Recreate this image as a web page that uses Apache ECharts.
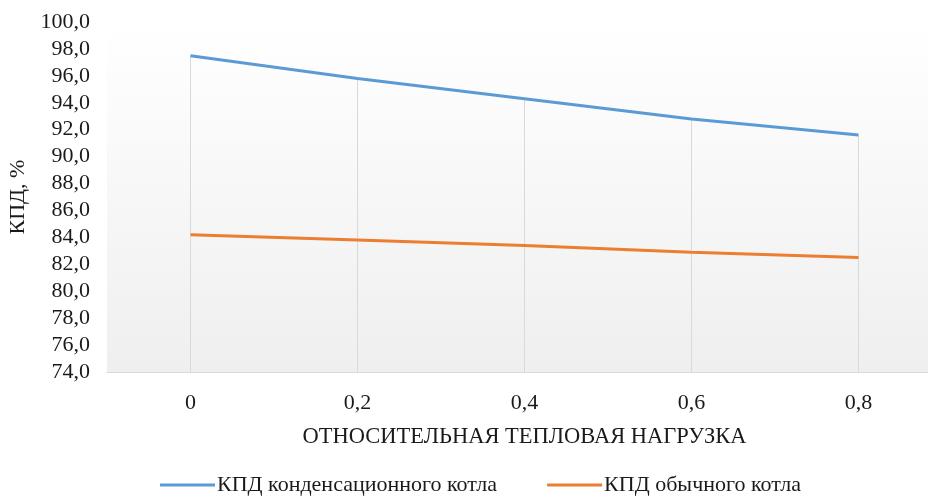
<!DOCTYPE html>
<html><head><meta charset="utf-8">
<script src="https://cdn.jsdelivr.net/npm/echarts@6/dist/echarts.min.js"></script>
<style>html,body{margin:0;padding:0;background:#fff}#c{width:928px;height:503px}</style>
</head><body><div id="c"></div>
<script>
var categories = ['0', '0,2', '0,4', '0,6', '0,8'];
var condensing = [97.5, 95.8, 94.3, 92.8, 91.6];
var ordinary = [84.2, 83.8, 83.4, 82.9, 82.5];
var seriesNames = ['КПД конденсационного котла', 'КПД обычного котла'];
var yMin = 74, yMax = 100, yStep = 2;

var font = '"Liberation Serif", "Times New Roman", serif';
var txt = '#1a1a1a';
var dropLines = condensing.map(function (v, i) {
  return [{ coord: [i, v] }, { coord: [i, yMin] }];
});

var chart = echarts.init(document.getElementById('c'), null, { renderer: 'canvas' });
chart.setOption({
  animation: false,
  textStyle: { fontFamily: font },
  grid: {
    left: 107, width: 835, top: 22, bottom: 131, show: true, borderWidth: 0,
    outerBoundsMode: 'none', containLabel: false,
    backgroundColor: new echarts.graphic.LinearGradient(0, 0, 0, 1, [
      { offset: 0, color: '#ffffff' }, { offset: 1, color: '#efefef' }
    ])
  },
  legend: {
    bottom: 2, left: 155, itemWidth: 55, itemHeight: 3, itemGap: 50,
    icon: 'rect',
    textStyle: { fontFamily: font, fontSize: 22, color: txt, padding: [0, 0, 0, -3] },
    data: seriesNames
  },
  xAxis: {
    type: 'category', data: categories, boundaryGap: true,
    name: 'ОТНОСИТЕЛЬНАЯ ТЕПЛОВАЯ НАГРУЗКА', nameLocation: 'middle', nameGap: 54,
    nameTextStyle: { fontFamily: font, fontSize: 22.5, color: txt },
    axisLine: { lineStyle: { color: '#d9d9d9', width: 1 } },
    axisTick: { show: false },
    axisLabel: { fontFamily: font, fontSize: 22, color: txt, margin: 20 },
    splitLine: { show: false }
  },
  yAxis: {
    type: 'value', min: yMin, max: yMax, interval: yStep,
    name: 'КПД, %', nameLocation: 'middle', nameGap: 75,
    nameTextStyle: { fontFamily: font, fontSize: 22, color: txt },
    axisLine: { show: false }, axisTick: { show: false },
    splitLine: { show: false },
    axisLabel: {
      fontFamily: font, fontSize: 22, color: txt, margin: 17,
      formatter: function (v) { return v.toFixed(1).replace('.', ','); }
    }
  },
  series: [
    {
      name: seriesNames[0], type: 'line', data: condensing, symbol: 'none',
      lineStyle: { color: '#5b9bd5', width: 3 }, itemStyle: { color: '#5b9bd5' },
      z: 3,
      markLine: {
        silent: true, symbol: ['none', 'none'], label: { show: false },
        lineStyle: { color: '#d9d9d9', width: 1, type: 'solid' },
        data: dropLines, z: 1
      }
    },
    {
      name: seriesNames[1], type: 'line', data: ordinary, symbol: 'none',
      lineStyle: { color: '#ed7d31', width: 3 }, itemStyle: { color: '#ed7d31' },
      z: 3
    }
  ]
});
</script></body></html>
